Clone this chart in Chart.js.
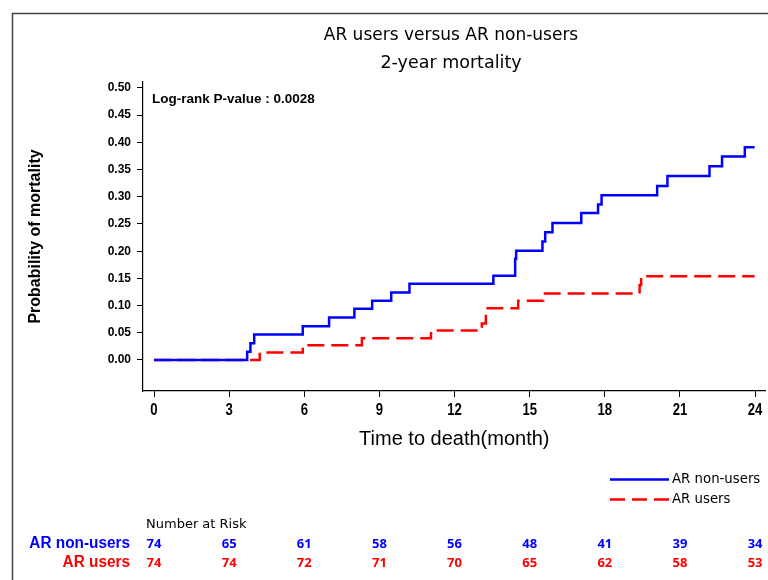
<!DOCTYPE html>
<html>
<head>
<meta charset="utf-8">
<script src="https://cdn.jsdelivr.net/npm/chart.js@4.4.1/dist/chart.umd.min.js"></script>
<style>
  html, body { margin: 0; padding: 0; background: #fff; }
  #wrap { width: 768px; height: 580px; position: relative; }
</style>
</head>
<body>
<div id="wrap"><canvas id="c"></canvas></div>
<script>
// ---- data ----
const nonUsersTime = [0, 3.72, 3.85, 4.0, 5.94, 6.99, 8.0, 8.71, 9.47, 10.2, 13.55, 14.42, 14.46, 15.51, 15.62, 15.91, 17.06, 17.73, 17.87, 20.09, 20.5, 22.18, 22.68, 23.59, 23.98];
const nonUsersProb = [0, 0.015, 0.031, 0.047, 0.062, 0.078, 0.094, 0.109, 0.124, 0.140, 0.155, 0.186, 0.201, 0.218, 0.235, 0.252, 0.270, 0.286, 0.303, 0.320, 0.338, 0.356, 0.374, 0.391, 0.391];
const usersTime = [0, 4.22, 5.94, 8.3, 11.06, 13.09, 13.25, 14.54, 15.54, 19.39, 19.45, 23.98];
const usersProb = [0, 0.014, 0.027, 0.040, 0.054, 0.067, 0.095, 0.109, 0.122, 0.138, 0.154, 0.154];
const xTicks = [0, 3, 6, 9, 12, 15, 18, 21, 24];
const yTicks = [0, 0.05, 0.10, 0.15, 0.20, 0.25, 0.30, 0.35, 0.40, 0.45, 0.50];
const riskTimes = [0, 3, 6, 9, 12, 15, 18, 21, 24];
const atRiskNonUsers = [74, 65, 61, 58, 56, 48, 41, 39, 34];
const atRiskUsers = [74, 74, 72, 71, 70, 65, 62, 58, 53];
const seriesNames = ['AR non-users', 'AR users'];
const titleText = 'AR users versus AR non-users';
const subtitleText = '2-year mortality';
const pValueText = 'Log-rank P-value : 0.0028';

const BLUE = '#0000ff';
const RED = '#ff0000';

const toPts = (t, p) => t.map((x, i) => ({ x: x, y: p[i] }));

function narrowText(ctx, text, x, y, sx) {
  ctx.save();
  ctx.translate(x, y);
  ctx.scale(sx, 1);
  ctx.fillText(text, 0, 0);
  ctx.restore();
}

const decor = {
  id: 'decor',
  afterDraw(chart) {
    const ctx = chart.ctx;
    const xs = chart.scales.x;
    ctx.save();
    // outer frame
    ctx.strokeStyle = '#444';
    ctx.lineWidth = 1.5;
    ctx.beginPath();
    ctx.moveTo(12.5, 580);
    ctx.lineTo(12.5, 13.5);
    ctx.lineTo(768, 13.5);
    ctx.stroke();

    // titles
    ctx.fillStyle = '#000';
    ctx.textAlign = 'center';
    ctx.textBaseline = 'middle';
    ctx.font = '17px "DejaVu Sans"';
    ctx.fillText(titleText, 451, 36);
    ctx.font = '17.5px "DejaVu Sans"';
    ctx.fillText(subtitleText, 451, 63);

    // x tick labels (bold, condensed)
    ctx.font = 'bold 16px "Liberation Sans"';
    xTicks.forEach(t => {
      narrowText(ctx, String(t), xs.getPixelForValue(t), 411, 0.82);
    });

    // p-value
    ctx.textAlign = 'left';
    ctx.font = 'bold 13.5px "Liberation Sans"';
    ctx.fillText(pValueText, 152, 99);

    // legend
    ctx.lineWidth = 2.5;
    ctx.strokeStyle = BLUE;
    ctx.beginPath(); ctx.moveTo(610, 479.5); ctx.lineTo(669, 479.5); ctx.stroke();
    ctx.strokeStyle = RED;
    ctx.setLineDash([15, 7]);
    ctx.beginPath(); ctx.moveTo(610, 499.5); ctx.lineTo(669, 499.5); ctx.stroke();
    ctx.setLineDash([]);
    ctx.fillStyle = '#000';
    ctx.font = '14px "DejaVu Sans"';
    narrowText(ctx, seriesNames[0], 672, 479, 0.95);
    narrowText(ctx, seriesNames[1], 672, 499, 0.95);

    // number at risk
    ctx.font = '13px "DejaVu Sans"';
    ctx.fillText('Number at Risk', 146, 525);
    ctx.textAlign = 'right';
    ctx.font = 'bold 16px "Liberation Sans"';
    ctx.fillStyle = BLUE;
    narrowText(ctx, seriesNames[0], 130, 544, 0.96);
    ctx.fillStyle = RED;
    narrowText(ctx, seriesNames[1], 130, 563, 0.96);
    ctx.textAlign = 'center';
    ctx.font = 'bold 13px "Noto Sans"';
    riskTimes.forEach((t, i) => {
      const px = xs.getPixelForValue(t);
      ctx.fillStyle = BLUE;
      ctx.fillText(String(atRiskNonUsers[i]), px, 544);
      ctx.fillStyle = RED;
      ctx.fillText(String(atRiskUsers[i]), px, 563);
    });
    ctx.restore();
  }
};

new Chart(document.getElementById('c'), {
  type: 'line',
  data: {
    datasets: [
      {
        label: seriesNames[0],
        data: toPts(nonUsersTime, nonUsersProb),
        borderColor: BLUE,
        borderWidth: 2.5,
        stepped: true,
        pointRadius: 0,
        fill: false
      },
      {
        label: seriesNames[1],
        data: toPts(usersTime, usersProb),
        borderColor: RED,
        borderWidth: 2.5,
        borderDash: [17, 7],
        stepped: true,
        pointRadius: 0,
        fill: false
      }
    ]
  },
  options: {
    responsive: true,
    maintainAspectRatio: false,
    animation: false,
    events: [],
    layout: { padding: { left: 0, right: 1, top: 82, bottom: 119 } },
    plugins: { legend: { display: false }, tooltip: { enabled: false }, title: { display: false } },
    scales: {
      x: {
        type: 'linear',
        min: -0.44,
        max: 24.42,
        afterBuildTicks: s => { s.ticks = xTicks.map(v => ({ value: v })); },
        afterFit: s => { s.height = 70; },
        grid: { display: true, drawOnChartArea: false, drawTicks: true, tickLength: 6, color: '#000', lineWidth: 1 },
        border: { display: true, color: '#000', width: 1.2 },
        ticks: {
          color: 'rgba(0,0,0,0)',
          padding: 4,
          maxRotation: 0,
          autoSkip: false,
          font: { family: '"Liberation Sans"', size: 16, weight: 'bold' },
          callback: v => String(v)
        },
        title: {
          display: true,
          text: 'Time to death(month)',
          color: '#000',
          font: { family: '"Liberation Sans"', size: 20 },
          padding: { top: 0, bottom: 10 }
        }
      },
      y: {
        type: 'linear',
        min: -0.057,
        max: 0.511,
        afterBuildTicks: s => { s.ticks = yTicks.map(v => ({ value: v })); },
        afterFit: s => { s.width = 143; },
        grid: { display: true, drawOnChartArea: false, drawTicks: true, tickLength: 6, color: '#000', lineWidth: 1 },
        border: { display: true, color: '#000', width: 1.2 },
        ticks: {
          color: '#000',
          padding: 6,
          autoSkip: false,
          font: { family: '"Liberation Sans"', size: 12, weight: 'bold' },
          callback: v => Number(v).toFixed(2)
        },
        title: {
          display: true,
          text: 'Probability of mortality',
          color: '#000',
          font: { family: '"Liberation Sans"', size: 16, weight: 'bold' },
          padding: { top: 26, bottom: 0 }
        }
      }
    }
  },
  plugins: [decor]
});
</script>
</body>
</html>
